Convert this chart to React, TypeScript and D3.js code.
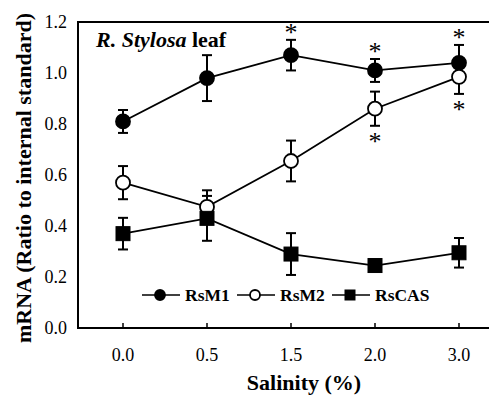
import React from 'react'
import { scaleLinear, scalePoint, line } from 'd3'

const salinity = ['0.0', '0.5', '1.5', '2.0', '3.0']
const yTicks = [0, 0.2, 0.4, 0.6, 0.8, 1.0, 1.2]

const rsM1 = [0.81, 0.98, 1.07, 1.01, 1.04]
const rsM1Err = [0.045, 0.09, 0.06, 0.045, 0.07]
const rsM2 = [0.57, 0.475, 0.655, 0.86, 0.985]
const rsM2Err = [0.065, 0.065, 0.08, 0.067, 0.067]
const rsCAS = [0.37, 0.43, 0.29, 0.245, 0.295]
const rsCASErr = [0.062, 0.088, 0.082, 0.012, 0.058]

// significance marks: series, point index, side of the error bar
const stars = [
  { s: 'RsM1', i: 2, side: 'up' },
  { s: 'RsM1', i: 3, side: 'up' },
  { s: 'RsM1', i: 4, side: 'up' },
  { s: 'RsM2', i: 3, side: 'down' },
  { s: 'RsM2', i: 4, side: 'down' }
]

const W = 489
const H = 397
const left = 78
const top = 22
const bottom = 328
const serif = 'Liberation Serif'

const series = [
  { name: 'RsM1', values: rsM1, err: rsM1Err, shape: 'circle', fill: '#000' },
  { name: 'RsM2', values: rsM2, err: rsM2Err, shape: 'circle', fill: '#fff' },
  { name: 'RsCAS', values: rsCAS, err: rsCASErr, shape: 'square', fill: '#000' }
]

const legendX = [142, 237, 332]

export default function App() {
  const x = scalePoint().domain(salinity).range([123, 459])
  const y = scaleLinear().domain([0, 1.2]).range([bottom, top])

  const path = line<number>()
    .x((d, i) => x(salinity[i]) as number)
    .y(d => y(d))

  const marker = (shape: string, fill: string, cx: number, cy: number, r: number, key?: string) =>
    shape === 'circle' ? (
      <circle key={key} cx={cx} cy={cy} r={r} fill={fill} stroke="#000" strokeWidth={1.8} />
    ) : (
      <rect key={key} x={cx - r} y={cy - r} width={2 * r} height={2 * r} fill={fill} stroke="#000" strokeWidth={1} />
    )

  return (
    <svg width={W} height={H} fontFamily={serif} style={{ position: 'absolute', left: 0, top: 0, background: '#fff' }}>
      <style>{`text, tspan { font-family: 'Liberation Serif'; }`}</style>
      {/* frame (right side falls outside the picture) */}
      <path d={`M${W},${top}H${left}V${bottom}H${W}`} fill="none" stroke="#000" strokeWidth={2} />

      {/* y labels */}
      <g fontSize={18} textAnchor="end">
        {yTicks.map(t => (
          <text key={t} x={67} y={y(t) + 6}>{t.toFixed(1)}</text>
        ))}
      </g>
      {/* x ticks + labels */}
      {salinity.map(c => (
        <g key={c}>
          <line x1={x(c)} x2={x(c)} y1={bottom} y2={bottom - 5} stroke="#000" strokeWidth={1.5} />
          <text x={x(c)} y={361} textAnchor="middle" fontSize={18}>{c}</text>
        </g>
      ))}

      <g fontWeight="bold">
        <text transform="rotate(-90)" x={-178} y={31} textAnchor="middle" fontSize={22}>
          {'mRNA (Ratio to internal standard)'}
        </text>
        <text x={304} y={390} textAnchor="middle" fontSize={22}>{'Salinity (%)'}</text>
        <text x={96} y={47} fontSize={22}>
          <tspan fontStyle="italic">{'R. Stylosa'}</tspan>{' leaf'}
        </text>
      </g>

      {/* error bars */}
      {series.map(s =>
        s.values.map((v, i) => {
          const cx = x(salinity[i]) as number
          const y1 = y(v + s.err[i])
          const y2 = y(v - s.err[i])
          return (
            <g key={s.name + i} stroke="#000" strokeWidth={2}>
              <line x1={cx} x2={cx} y1={y1} y2={y2} />
              <line x1={cx - 5} x2={cx + 5} y1={y1} y2={y1} />
              <line x1={cx - 5} x2={cx + 5} y1={y2} y2={y2} />
            </g>
          )
        })
      )}

      {/* lines */}
      {series.map(s => (
        <path key={s.name} d={path(s.values) as string} fill="none" stroke="#000" strokeWidth={1.8} />
      ))}

      {/* markers */}
      {series.map(s =>
        s.values.map((v, i) =>
          marker(s.shape, s.fill, x(salinity[i]) as number, y(v), 7, s.name + 'm' + i)
        )
      )}

      {/* asterisks */}
      {stars.map((st, k) => {
        const s = series.find(d => d.name === st.s)!
        const v = s.values[st.i]
        const e = s.err[st.i]
        const cy = st.side === 'up' ? y(v + e) - 11 : y(v - e) + 12
        return (
          <text key={k} x={x(salinity[st.i])} y={cy + 12} textAnchor="middle" fontSize={26}>*</text>
        )
      })}

      {/* legend */}
      {series.map((s, k) => {
        const lx = legendX[k]
        const ly = 295
        return (
          <g key={s.name}>
            <line x1={lx} x2={lx + 38} y1={ly} y2={ly} stroke="#000" strokeWidth={1.5} />
            {marker(s.shape, s.fill, lx + 18, ly, 5)}
            <text x={lx + 43} y={ly + 6} fontSize={17.5} fontWeight="bold">{s.name}</text>
          </g>
        )
      })}
    </svg>
  )
}
